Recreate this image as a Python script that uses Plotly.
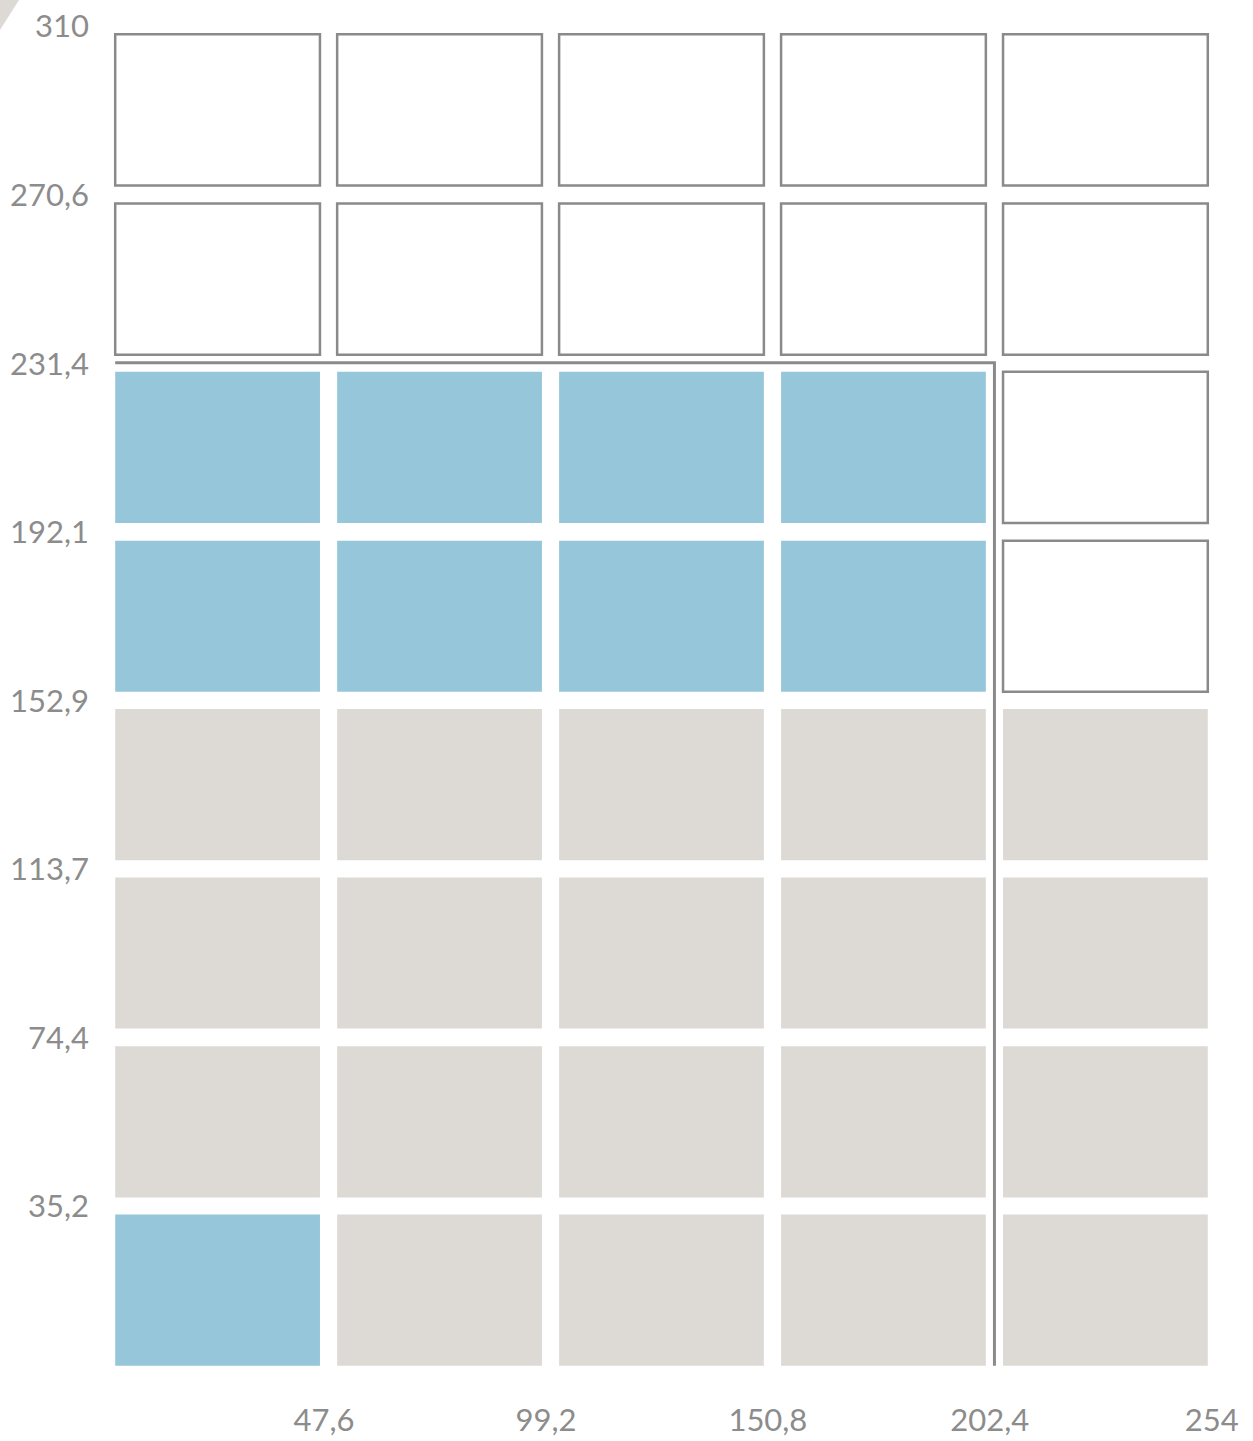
import plotly.graph_objects as go

# ---- data ----
x_ticks = [47.6, 99.2, 150.8, 202.4, 254]
x_labels = ["47,6", "99,2", "150,8", "202,4", "254"]
y_ticks = [35.2, 74.4, 113.7, 152.9, 192.1, 231.4, 270.6, 310]
y_labels = ["35,2", "74,4", "113,7", "152,9", "192,1", "231,4", "270,6", "310"]

# cell status per row, bottom row first; b = blue, g = grey, w = empty (outlined)
row_status = [
    ["b", "g", "g", "g", "g"],
    ["g", "g", "g", "g", "g"],
    ["g", "g", "g", "g", "g"],
    ["g", "g", "g", "g", "g"],
    ["b", "b", "b", "b", "w"],
    ["b", "b", "b", "b", "w"],
    ["w", "w", "w", "w", "w"],
    ["w", "w", "w", "w", "w"],
]
# boundary line (threshold) coordinates
boundary_x = [0, 204.4, 204.4]
boundary_y = [233.5, 233.5, 0]

# ---- style ----
CELL_W = 47.6
CELL_H = 35.2
BLUE = "#96C6D9"
GREY = "#DDDAD6"
OUTLINE = "#8A8A8A"
TEXT = "#8C8C8C"

W, H = 1253, 1441
L, R, T, B = 98, 28, 17, 58
x_range = [-4, 258]
y_range = [-4, 314]

fig = go.Figure()

shapes = []
for r, row in enumerate(row_status):
    top = y_ticks[r]
    for c, st in enumerate(row):
        right = x_ticks[c]
        x0, x1 = right - CELL_W, right
        y0, y1 = top - CELL_H, top
        if st == "w":
            shapes.append(dict(type="rect", xref="x", yref="y", x0=x0, x1=x1, y0=y0, y1=y1,
                               fillcolor="white", line=dict(color=OUTLINE, width=2.5), layer="above"))
        else:
            shapes.append(dict(type="rect", xref="x", yref="y", x0=x0, x1=x1, y0=y0, y1=y1,
                               fillcolor=BLUE if st == "b" else GREY, line=dict(width=0), layer="below"))

# decorative corner triangle (top-left of page)
pw = W - L - R
ph = H - T - B
def px(xp):
    return (xp - L) / pw
def py(yp):
    return 1 - (yp - T) / ph
shapes.append(dict(type="path", xref="paper", yref="paper",
                   path=f"M {px(0)},{py(0)} L {px(19)},{py(0)} L {px(0)},{py(30)} Z",
                   fillcolor=GREY, line=dict(width=0), layer="below"))

fig.add_trace(go.Scatter(x=boundary_x, y=boundary_y, mode="lines",
                         line=dict(color=OUTLINE, width=3), hoverinfo="skip", showlegend=False))

fig.update_layout(
    width=W, height=H,
    margin=dict(l=L, r=R, t=T, b=B, autoexpand=False),
    paper_bgcolor="white", plot_bgcolor="white",
    shapes=shapes,
    showlegend=False,
    font=dict(family="Lato", size=31, color=TEXT),
)
fig.update_xaxes(range=x_range, tickvals=x_ticks, ticktext=x_labels, showgrid=False,
                 zeroline=False, showline=False, ticks="", ticklabelstandoff=16,
                 ticklabelshift=4, fixedrange=True, automargin=False)
fig.update_yaxes(range=y_range, tickvals=y_ticks, ticktext=y_labels, showgrid=False,
                 zeroline=False, showline=False, ticks="", ticklabelstandoff=8,
                 ticklabelshift=-8, fixedrange=True, automargin=False)

fig.write_html("out.html", config={"displayModeBar": False},
               post_script="document.body.style.margin='0';")
